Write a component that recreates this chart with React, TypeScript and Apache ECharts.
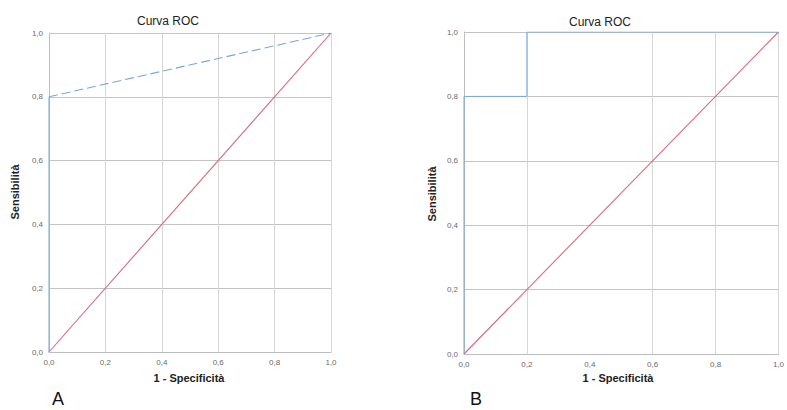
import React, { useEffect, useRef } from "react";
import * as echarts from "echarts";

// Tick labels (Italian decimal comma)
const tickLabels = ["0,0", "0,2", "0,4", "0,6", "0,8", "1,0"];

// Chart A: ROC curve points [1 - specificità, sensibilità]
const rocAVertical = [[0, 0], [0, 0.8]];
const rocADiagonal = [[0, 0.8], [1, 1]];
// Chart B: ROC curve step points
const rocB = [[0, 0], [0, 0.8], [0.2, 0.8], [0.2, 1], [1, 1]];
// Reference line (chance)
const refLine = [[0, 0], [1, 1]];
// Vertical gridlines visible in chart B
const gridXB = [0.2, 0.6, 0.8, 1.0];

const titleText = "Curva ROC";
const xTitle = "1 - Specificità";
const yTitle = "Sensibilità";

const FONT = "Liberation Sans, Arial, sans-serif";
const BLUE = "#7aa7da";
const RED = "#d46a84";
const GRID_V = "#d6d6d6";
const GRID_H = "#c4c4c4";

export default function App() {
  const ref = useRef<HTMLDivElement>(null);
  useEffect(() => {
    document.body.style.margin = "0";
    const chart = echarts.init(ref.current!, null, { renderer: "svg" });

    const xAxisBase = (gridIndex: number, showSplit: boolean) => ({
      type: "value",
      gridIndex,
      min: 0,
      max: 1,
      interval: 0.2,
      axisLine: { show: true, lineStyle: { color: "#bdbdbd", width: 1 } },
      axisTick: { show: false },
      axisLabel: {
        color: "#6a6a6a",
        fontSize: 8,
        fontFamily: FONT,
        margin: 6,
        formatter: (_v: number, i: number) => tickLabels[i],
      },
      splitLine: { show: showSplit, lineStyle: { color: GRID_V, width: 1 } },
    });
    const yAxisBase = (gridIndex: number) => ({
      type: "value",
      gridIndex,
      min: 0,
      max: 1,
      interval: 0.2,
      axisLine: { show: true, lineStyle: { color: "#bdbdbd", width: 1 } },
      axisTick: { show: false },
      axisLabel: {
        color: "#6a6a6a",
        fontSize: 8,
        fontFamily: FONT,
        margin: 6,
        formatter: (_v: number, i: number) => tickLabels[i],
      },
      splitLine: { show: true, lineStyle: { color: GRID_H, width: 1 } },
    });

    const textStyle = (size: number, weight: string = "normal") => ({
      fontSize: size,
      fontWeight: weight,
      fontFamily: FONT,
      fill: "#222",
    });

    chart.setOption({
      animation: false,
      backgroundColor: "#fff",
      grid: [
        { left: 49, top: 33, width: 282, height: 319 },
        { left: 464, top: 32, width: 315, height: 322 },
      ],
      xAxis: [xAxisBase(0, true), xAxisBase(1, false)],
      yAxis: [yAxisBase(0), yAxisBase(1)],
      graphic: [
        { type: "text", x: 168, y: 21, style: { ...textStyle(12), text: titleText, align: "center", verticalAlign: "middle" } },
        { type: "text", x: 600, y: 22, style: { ...textStyle(12), text: titleText, align: "center", verticalAlign: "middle" } },
        { type: "text", x: 189, y: 378, style: { ...textStyle(11, "bold"), text: xTitle, align: "center", verticalAlign: "middle" } },
        { type: "text", x: 618, y: 378, style: { ...textStyle(11, "bold"), text: xTitle, align: "center", verticalAlign: "middle" } },
        { type: "text", x: 15, y: 192, rotation: Math.PI / 2, style: { ...textStyle(11, "bold"), text: yTitle, align: "center", verticalAlign: "middle" } },
        { type: "text", x: 432, y: 194, rotation: Math.PI / 2, style: { ...textStyle(11, "bold"), text: yTitle, align: "center", verticalAlign: "middle" } },
        { type: "text", x: 58, y: 399, style: { ...textStyle(18), text: "A", align: "center", verticalAlign: "middle", fill: "#111" } },
        { type: "text", x: 476, y: 399, style: { ...textStyle(18), text: "B", align: "center", verticalAlign: "middle", fill: "#111" } },
      ],
      series: [
        {
          type: "line", xAxisIndex: 0, yAxisIndex: 0, data: refLine, symbol: "none",
          lineStyle: { color: RED, width: 1.1 }, z: 3,
        },
        {
          type: "line", xAxisIndex: 0, yAxisIndex: 0, data: rocAVertical, symbol: "none",
          lineStyle: { color: BLUE, width: 1 }, z: 4,
        },
        {
          type: "line", xAxisIndex: 0, yAxisIndex: 0, data: rocADiagonal, symbol: "none",
          lineStyle: { color: BLUE, width: 1.1, type: [9, 4] }, z: 4,
        },
        {
          type: "line", xAxisIndex: 1, yAxisIndex: 1, data: refLine, symbol: "none",
          lineStyle: { color: RED, width: 1.1 }, z: 3,
          markLine: {
            silent: true,
            symbol: "none",
            label: { show: false },
            lineStyle: { color: GRID_V, width: 1, type: "solid" },
            data: gridXB.map((x) => ({ xAxis: x })),
            z: 1,
          },
        },
        {
          type: "line", xAxisIndex: 1, yAxisIndex: 1, data: rocB, symbol: "none",
          lineStyle: { color: BLUE, width: 1 }, z: 4,
        },
      ],
    });
    return () => chart.dispose();
  }, []);
  return <div ref={ref} style={{ width: 787, height: 410 }} />;
}
